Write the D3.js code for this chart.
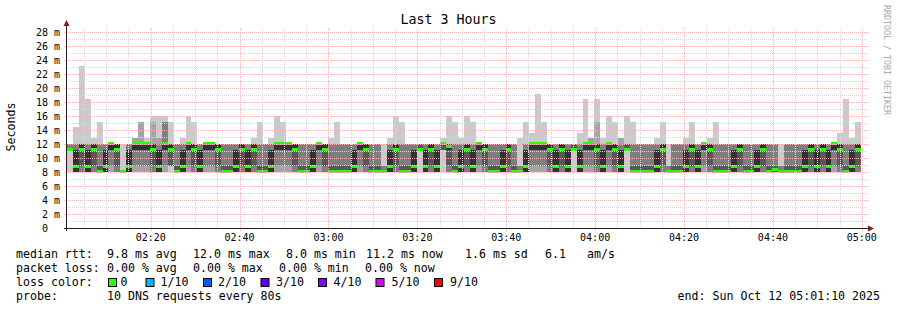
<!DOCTYPE html>
<html><head><meta charset="utf-8">
<script src="https://cdn.jsdelivr.net/npm/d3@7"></script>
<style>
html,body{margin:0;padding:0;background:#fff;}
svg{display:block;}
text{font-family:"DejaVu Sans Mono",monospace;fill:#000;}
</style></head><body>
<svg id="c" width="897" height="310"></svg>
<script>
// ---------- data ----------
const chartTitle = "Last 3 Hours";
const yAxisTitle = "Seconds";
const watermark = "RRDTOOL / TOBI OETIKER";
const startTime = new Date(2025, 9, 12, 2, 1, 10);
const endTime = new Date(2025, 9, 12, 5, 1, 10);
const stepSeconds = 80;
const yDomainMax = 28.57;
const yTickValues = [0, 2, 4, 6, 8, 10, 12, 14, 16, 18, 20, 22, 24, 26, 28];
const yTickNumbers = ["0", "2", "4", "6", "8", "10", "12", "14", "16", "18", "20", "22", "24", "26", "28"];
const yTickUnits = ["", "m", "m", "m", "m", "m", "m", "m", "m", "m", "m", "m", "m", "m", "m"];
const xTickLabels = ["02:20", "02:40", "03:00", "03:20", "03:40", "04:00", "04:20", "04:40", "05:00"];

// median RTT per 80 s step (ms)
const medianRtt = [
11.2,8.8,11.2,8.8,11.2,8.0,8.8,12.0,11.2,8.0,
8.8,12.0,12.0,12.0,11.2,8.8,12.0,11.2,8.0,8.8,
12.0,11.2,8.8,12.0,12.0,11.2,8.0,8.0,8.8,11.2,
8.8,11.2,8.0,8.0,8.8,12.0,12.0,12.0,11.2,8.0,
8.0,8.8,12.0,11.2,8.0,8.0,8.0,8.0,8.8,12.0,
11.2,8.0,8.0,8.0,8.8,11.2,8.0,8.0,8.8,11.2,
8.8,11.2,8.8,12.0,11.6,8.0,8.8,11.2,8.8,12.0,
11.2,8.0,8.0,8.8,11.2,8.0,8.0,8.8,12.0,12.0,
12.0,11.2,8.8,11.2,8.8,11.2,8.8,12.0,12.0,11.2,
8.8,12.0,11.2,8.8,11.2,8.0,8.0,8.0,8.0,8.8,
11.2,8.0,8.0,8.0,8.8,11.2,8.8,12.0,11.2,8.0,
8.0,8.0,8.8,11.2,8.0,8.0,8.8,11.2,8.0,8.4,
8.0,8.0,8.0,8.0,8.8,11.2,8.8,11.2,8.8,12.0,
11.2,8.0,8.8,11.2
];

// the 10 sorted ping times of every step (ms)
const pingRows = [
[8,11.2,11.2,11.2,11.2,11.2,11.2,12,12,12],
[8,8,8,8,8,11.2,11.2,12,12,14.4],
[8,8,8,8.8,11.2,12,12,12,12,23.2],
[8,8,8,8,8,11.2,11.2,12,12,18.4],
[8,8,8,8.8,11.2,12,12,12,12,12.8],
[8,8,8,8,8,8,8.8,12,12,15.2],
[8,8,8,8,8,11.2,11.2,12,12,12],
[8,8,8.8,11.2,11.2,12,12,12,12,12],
[8,8,8,8.8,11.2,12,12,12,12,12],
[8,8,8,8,8,8,8,8,8,12],
[8,8,8,8,8,11.2,11.2,12,12,12],
[8,8,8.8,11.2,11.2,12,12,12,12.8,12.8],
[8,8,8.8,11.2,11.2,12,12,12,15.2,15.2],
[8,8,8.8,11.2,11.2,12,12,12,12,12.8],
[8,8,8,8.8,11.2,12,12,12,15.2,16],
[8,8,8,8,8,11.2,11.2,12,12.8,16],
[8,8,8.8,11.2,11.2,12,12,15.2,15.2,16],
[8,8.8,8.8,8.8,11.2,12,12,12,12,15.2],
[8,8,8,8,8,8,8.8,12,12,12],
[8,8,8,8,8,11.2,11.2,12,12,12.8],
[8,8,8.8,11.2,11.2,12,12,12,12,16],
[8,8,8,8.8,11.2,12,12,12,12,15.2],
[8,8,8,8,8,11.2,11.2,12,12,12],
[8,8,8.8,11.2,11.2,12,12,12,12,12],
[8,8,8.8,11.2,11.2,12,12,12,12,12],
[8,8,8,8.8,11.2,12,12,12,12,12],
[8,8,8,8,8,8,8.8,12,12,12],
[8,8,8,8,8,8,8.8,12,12,12],
[8,8,8,8,8,11.2,11.2,12,12,12],
[8,8,8,8.8,11.2,12,12,12,12,12],
[8,8,8,8,8,11.2,11.2,12,12,12],
[8,8,8,8.8,11.2,12,12,12,12,12.8],
[8,8,8,8,8,8,8.8,12,12,15.2],
[8,8,8,8,8,8,8.8,12,12,12],
[8,8,8,8,8,11.2,11.2,12,12,12.8],
[8,8,8.8,11.2,11.2,12,12,12,12,16],
[8,8,8.8,11.2,11.2,12,12,12,12,15.2],
[8,8,8.8,11.2,11.2,12,12,12,12,12],
[8,8,8,8.8,11.2,12,12,12,12,12],
[8,8,8,8,8,8,8.8,12,12,12],
[8,8,8,8,8,8,8.8,12,12,12],
[8,8,8,8,8,11.2,11.2,12,12,12],
[8,8,8.8,11.2,11.2,12,12,12,12,12],
[8,8,8,8.8,11.2,12,12,12,12,12],
[8,8,8,8,8,8,8.8,12,12,12.8],
[8,8,8,8,8,8,8.8,12,12,15.2],
[8,8,8,8,8,8,8.8,12,12,12],
[8,8,8,8,8,8,8.8,12,12,12],
[8,8,8,8,8,11.2,11.2,12,12,12],
[8,8,8.8,11.2,11.2,12,12,12,12,12],
[8,8,8,8.8,11.2,12,12,12,12,12],
[8,8,8,8,8,8,8.8,12,12,12],
[8,8,8,8,8,8,8.8,12,12,12],
[8,8,8,8,8,8,8,8.8,8.8,12],
[8,8,8,8,8,11.2,11.2,12,12,12.8],
[8,8,8,8.8,11.2,12,12,12,12,16],
[8,8,8,8,8,8,8.8,12,12,15.2],
[8,8,8,8,8,8,8.8,12,12,12],
[8,8,8,8,8,11.2,11.2,12,12,12],
[8,11.2,11.2,11.2,11.2,11.2,12,12,12,12],
[8,8,8,8,8,11.2,11.2,12,12,12],
[8,8,8,8.8,11.2,12,12,12,12,12],
[8,8,8,8,8,11.2,11.2,12,12,12],
[8,11.2,11.2,11.2,12,12,12,12,12,12.8],
[8,8,8,8.8,11.2,12,12,12,12,16],
[8,8,8,8,8,8,8.8,12,12,15.2],
[8,8,8,8,8,11.2,11.2,12,12,12.8],
[8,8,8,8.8,11.2,12,12,12,12,16],
[8,8,8,8,8,11.2,11.2,12,12,15.2],
[8,8,8.8,11.2,11.2,12,12,12,12,12],
[8,8,8,8.8,11.2,12,12,12,12,12],
[8,8,8,8,8,8,8.8,12,12,12],
[8,8,8,8,8,8,8.8,12,12,12],
[8,8,8,8,8,11.2,11.2,12,12,12],
[8,8,8,8.8,11.2,12,12,12,12,12],
[8,8,8,8,8,8,8.8,12,12,12],
[8,8,8,8,8,8,8,8.8,8.8,12.8],
[8,8,8,8,8,11.2,11.2,12,12,15.2],
[8,8,8.8,11.2,11.2,12,12,12,12,13.6],
[8,8,8.8,11.2,11.2,12,12,12,12,19.2],
[8,8,8.8,11.2,11.2,12,12,12,12,15.2],
[8,8,8,8.8,11.2,12,12,12,12,12],
[8,8,8,8,8,11.2,11.2,12,12,12],
[8,8,8,8.8,11.2,12,12,12,12,12],
[8,8,8,8,8,11.2,11.2,12,12,12],
[8,11.2,11.2,11.2,11.2,11.2,12,12,12,12],
[8,8,8,8,8,11.2,11.2,12,12,13.6],
[8,8,8.8,11.2,11.2,12,12,12,12,18.4],
[8,8,8.8,11.2,11.2,12,12,12,12.8,12.8],
[8,8,8,8.8,11.2,12,12,12,15.2,18.4],
[8,8,8,8,8,11.2,11.2,12,12,12.8],
[8,8,8.8,11.2,11.2,12,12,12,12,16],
[8,8,8,8.8,11.2,12,12,12,12,15.2],
[8,8,8,8,8,11.2,11.2,12,12.8,12.8],
[8,11.2,11.2,11.2,11.2,11.2,12,12,12,16],
[8,8,8,8,8,8,8.8,12,12,15.2],
[8,8,8,8,8,8,8.8,12,12,12],
[8,8,8,8,8,8,8.8,12,12,12],
[8,8,8,8,8,8,8.8,12,12,12],
[8,8,8,8,8,11.2,11.2,12,12,12.8],
[8,8,8,8.8,11.2,12,12,12,12,15.2],
[8,8,8,8,8,8,8,8.8,8.8,12],
[8,8,8,8,8,8,8.8,12,12,12],
[8,8,8,8,8,8,8.8,12,12,12],
[8,8,8,8,8,11.2,11.2,12,12,12.8],
[8,8,8,8.8,11.2,12,12,12,12,15.2],
[8,8,8,8,8,11.2,11.2,12,12,12],
[8,8,8.8,11.2,11.2,12,12,12,12,12],
[8,8,8,8.8,11.2,12,12,12,12,12.8],
[8,8,8,8,8,8,8.8,12,12,15.2],
[8,8,8,8,8,8,8.8,12,12,12],
[8,8,8,8,8,8,8.8,12,12,12],
[8,8,8,8,8,11.2,11.2,12,12,12],
[8,8,8,8.8,11.2,12,12,12,12,12],
[8,8,8,8,8,8,8.8,12,12,12],
[8,8,8,8,8,8,8.8,12,12,12],
[8,8,8,8,8,11.2,11.2,12,12,12],
[8,8,8,8.8,11.2,12,12,12,12,12],
[8,8,8,8,8,8,8.8,12,12,12],
[8,8,8,8,8,8,8.8,12,12,12],
[8,8,8,8,8,8,8,8.8,8.8,12],
[8,8,8,8,8,8,8.8,12,12,12],
[8,8,8,8,8,8,8.8,12,12,12],
[8,8,8,8,8,8,8.8,12,12,12],
[8,8,8,8,8,11.2,11.2,12,12,12],
[8,8,8,8.8,11.2,12,12,12,12,12],
[8,8,8,8,8,11.2,11.2,12,12,12],
[8,8,8,8.8,11.2,12,12,12,12,12],
[8,8,8,8,8,11.2,11.2,12,12,12],
[8,8,8.8,11.2,11.2,12,12,12,12,12],
[8,8,8,8.8,11.2,12,12,12,12,13.6],
[8,8,8,8,8,8,8.8,12,12,18.4],
[8,8,8,8,8,11.2,11.2,12,12,12.8],
[8,8,8,8.8,11.2,12,12,12,12,15.2]
];

const legendRows = [
  [["median rtt:",16],["9.8 ms avg",107],["12.0 ms max",193],["8.0 ms min",286],["11.2 ms now",366],["1.6 ms sd",465],["6.1",545],["am/s",587]],
  [["packet loss:",16],["0.00 % avg",107],["0.00 % max",193],["0.00 % min",279],["0.00 % now",365]],
  [["loss color:",16]],
  [["probe:",16],["10 DNS requests every 80s",107]]
];
const lossLabels = ["0", "1/10", "2/10", "3/10", "4/10", "5/10", "9/10"];
const lossColors = ["#26ff00", "#00b8ff", "#0059ff", "#5e00ff", "#7e00ff", "#dd00ff", "#ff0000"];
const lossBoxX = [108.5, 146, 203.5, 261, 318.5, 376, 434.5];
const lossTextX = [120.5, 160.5, 218, 276, 333.5, 391.5, 450];
const endLabel = "end: Sun Oct 12 05:01:10 2025";
const smokeGreys = ["#cacaca", "#a4a4a4", "#7e7e7e", "#585858", "#323232"];

// ---------- drawing ----------
const svg = d3.select("#c");
svg.append("rect").attr("width", 897).attr("height", 310).attr("fill", "#fff");
const L = 67, R = 867, T = 28, B = 228;
const x = d3.scaleTime().domain([startTime, endTime]).range([L, R]);
const y = d3.scaleLinear().domain([0, yDomainMax]).range([B, T]);
const stepTime = i => new Date(+startTime + i * stepSeconds * 1000);

const gData = svg.append("g").attr("shape-rendering", "crispEdges");
smokeGreys.forEach((col, b) => {
  gData.append("g").selectAll("rect").data(pingRows).join("rect")
    .attr("x", (d, i) => x(stepTime(i)))
    .attr("width", (d, i) => x(stepTime(i + 1)) - x(stepTime(i)))
    .attr("y", d => y(d[9 - b]))
    .attr("height", d => Math.max(0, y(d[b]) - y(d[9 - b])))
    .attr("fill", col);
});
gData.append("g").selectAll("rect").data(medianRtt).join("rect")
  .attr("x", (d, i) => x(stepTime(i)))
  .attr("width", (d, i) => x(stepTime(i + 1)) - x(stepTime(i)))
  .attr("y", d => y(d) - 1.5)
  .attr("height", 3)
  .attr("fill", lossColors[0]);

// grid (drawn over the data, like rrdtool)
const gGrid = svg.append("g").attr("shape-rendering", "crispEdges").attr("stroke-dasharray", "1,1");
const minorGridColor = "#d6d6d6", majorGridColor = "#f2b3b3";
d3.range(1, 29).forEach(v => {
  const major = v % 2 === 0;
  gGrid.append("line")
    .attr("x1", major ? L - 3 : L - 1).attr("x2", major ? R + 2 : R + 1)
    .attr("y1", Math.round(y(v)) + 0.5).attr("y2", Math.round(y(v)) + 0.5)
    .attr("stroke", major ? majorGridColor : minorGridColor);
});
const minorTimes = d3.timeMinute.every(5).range(startTime, endTime);
minorTimes.forEach(t => {
  const major = t.getMinutes() % 20 === 0;
  const xp = Math.round(x(t)) + 0.5;
  gGrid.append("line")
    .attr("x1", xp).attr("x2", xp)
    .attr("y1", T).attr("y2", major ? B + 3 : B + 1)
    .attr("stroke", major ? majorGridColor : minorGridColor);
});

// axes
const gAx = svg.append("g").attr("shape-rendering", "crispEdges");
gAx.append("line").attr("x1", L - 3).attr("x2", R + 2).attr("y1", B + 0.5).attr("y2", B + 0.5).attr("stroke", "#1f1f1f");
gAx.append("line").attr("x1", L - 0.5).attr("x2", L - 0.5).attr("y1", B + 3).attr("y2", T - 4).attr("stroke", "#1f1f1f");
svg.append("path").attr("d", `M${L - 3.5},${T - 2} L${L + 2.5},${T - 2} L${L - 0.5},${T - 8} Z`).attr("fill", "#7f1f1f");
svg.append("path").attr("d", `M${R + 1},${B - 2.5} L${R + 1},${B + 3.5} L${R + 7},${B + 0.5} Z`).attr("fill", "#7f1f1f");

// y tick labels
yTickValues.forEach((v, i) => {
  svg.append("text").attr("x", 48).attr("y", y(v) + 3.6).attr("text-anchor", "end")
    .attr("font-size", "10px").text(yTickNumbers[i]);
  if (yTickUnits[i]) svg.append("text").attr("x", 54).attr("y", y(v) + 3.6)
    .attr("font-size", "10px").text(yTickUnits[i]);
});
// x tick labels
const parseT = d3.timeParse("%Y-%m-%d %H:%M");
xTickLabels.forEach(lbl => {
  const t = parseT("2025-10-12 " + lbl);
  svg.append("text").attr("x", x(t)).attr("y", 241).attr("text-anchor", "middle")
    .attr("font-size", "10px").text(lbl);
});

// titles
svg.append("text").attr("x", 448.5).attr("y", 24).attr("text-anchor", "middle")
  .attr("font-size", "13.3px").text(chartTitle);
svg.append("text").attr("transform", "translate(15,127) rotate(-90)").attr("text-anchor", "middle")
  .attr("font-size", "11.6px").text(yAxisTitle);
svg.append("text").attr("transform", "translate(883.5,5) rotate(90)")
  .attr("font-size", "8.3px").style("fill", "#a8a8a8").text(watermark);

// legend
const legendY = [258, 272, 286, 300];
legendRows.forEach((row, r) => {
  row.forEach(([s, xp]) => {
    svg.append("text").attr("x", xp).attr("y", legendY[r]).attr("font-size", "11.6px")
      .attr("xml:space", "preserve").text(s);
  });
});
lossLabels.forEach((lbl, i) => {
  svg.append("rect").attr("x", lossBoxX[i]).attr("y", 278.5).attr("width", 8).attr("height", 8)
    .attr("fill", lossColors[i]).attr("stroke", "#000").attr("stroke-width", 1);
  svg.append("text").attr("x", lossTextX[i]).attr("y", 286).attr("font-size", "11.6px").text(lbl);
});
svg.append("text").attr("x", 880).attr("y", 300).attr("text-anchor", "end")
  .attr("font-size", "11.6px").text(endLabel);
</script>
</body></html>
